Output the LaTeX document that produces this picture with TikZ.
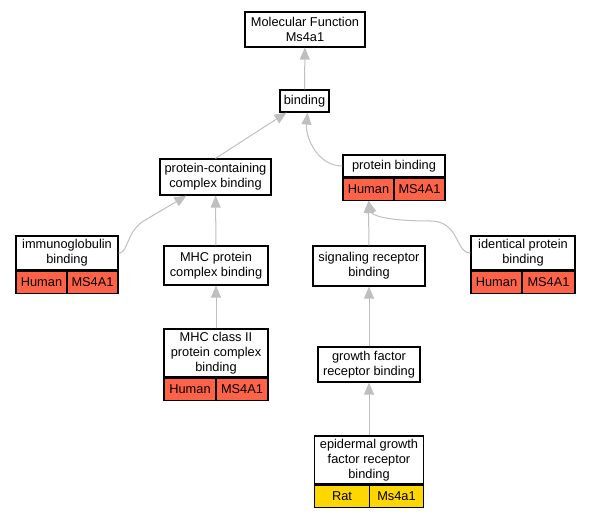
\documentclass[tikz,border=0pt]{standalone}
\usepackage{fontspec}
\setmainfont{Liberation Sans}
\usetikzlibrary{arrows.meta}
\definecolor{human}{RGB}{255,99,71}
\definecolor{rat}{RGB}{255,215,0}
\begin{document}
\begin{tikzpicture}[x=1pt,y=1pt]
                    \tikzstyle{term}=[draw=black,line width=1.2pt,fill=white,inner sep=0pt,align=center,font=\fontsize{12.8}{14.7}\selectfont]
                    \tikzstyle{cell}=[term,minimum height=22]
                    \tikzstyle{isa}=[draw=gray!50,line width=1pt,-{Triangle[width=10pt,length=12pt]}]
                    \useasboundingbox (0,0) rectangle (591,517);

                    \node (mf) at (305,487.5) [term,minimum width=120,minimum height=35] {Molecular Function\\Ms4a1};
                    \node (bind) at (304.5,416) [term,minimum width=49,minimum height=22] {binding};
                    \node (pcc) at (215.5,340) [term,minimum width=111,minimum height=36] {protein-containing\\complex binding};

                    \node (pb) at (394,351) [term,minimum width=102,minimum height=22] {protein binding};
                    \node (pbh) at (pb.south west) [cell,anchor=north west,minimum width=51,fill=human] {Human};
                    \node (pbg) at (pb.south east) [cell,anchor=north east,minimum width=51,fill=human] {MS4A1};

                    \node (ig) at (67,264) [term,minimum width=102,minimum height=34] {immunoglobulin\\binding};
                    \node (igh) at (ig.south west) [cell,anchor=north west,minimum width=51,fill=human] {Human};
                    \node (igg) at (ig.south east) [cell,anchor=north east,minimum width=51,fill=human] {MS4A1};

                    \node (mhcp) at (216,251.5) [term,minimum width=104,minimum height=39] {MHC protein\\complex binding};
                    \node (sig) at (369,251) [term,minimum width=112,minimum height=40] {signaling receptor\\binding};

                    \node (idp) at (523,264) [term,minimum width=104,minimum height=34] {identical protein\\binding};
                    \node (idph) at (idp.south west) [cell,anchor=north west,minimum width=51,fill=human] {Human};
                    \node (idpg) at (idp.south east) [cell,anchor=north east,minimum width=53,fill=human] {MS4A1};

                    \node (mhc2) at (216,164) [term,minimum width=104,minimum height=48] {MHC class II\\protein complex\\binding};
                    \node (mhc2h) at (mhc2.south west) [cell,anchor=north west,minimum width=52,fill=human] {Human};
                    \node (mhc2g) at (mhc2.south east) [cell,anchor=north east,minimum width=52,fill=human] {MS4A1};

                    \node (gf) at (369,152.5) [term,minimum width=102,minimum height=35] {growth factor\\receptor binding};
                    \node (egf) at (369,57) [term,minimum width=109,minimum height=48] {epidermal growth\\factor receptor\\binding};
                    \node (egfr) at (egf.south west) [cell,anchor=north west,minimum width=55,fill=rat] {Rat};
                    \node (egfg) at (egf.south east) [cell,anchor=north east,minimum width=54,fill=rat] {Ms4a1};

                    \coordinate (pccin) at ([xshift=-29pt]pcc.south);

                    \draw [isa] (bind) -- (mf);
                    \draw [isa] (pcc.north) -- (bind);
                    \draw [isa] (pb.west) to [out=180,in=-95] ([xshift=3pt]bind.south);
                    \draw [isa] (ig.east) .. controls (128,264) and (126,283) .. (142,295) -- (pccin);
                    \draw [isa] (mhcp) -- (pcc);
                    \draw [isa] (mhc2) -- (mhcp);
                    \draw [isa] (idp.west) .. controls (455,264) and (460,296) .. (430,296) .. controls (385,296) and (372,302) .. (pbh.south);
                    \draw [isa] (sig) -- (pbh);
                    \draw [isa] (gf) -- (sig);
                    \draw [isa] (egf) -- (gf);
                \end{tikzpicture}
\end{document}
